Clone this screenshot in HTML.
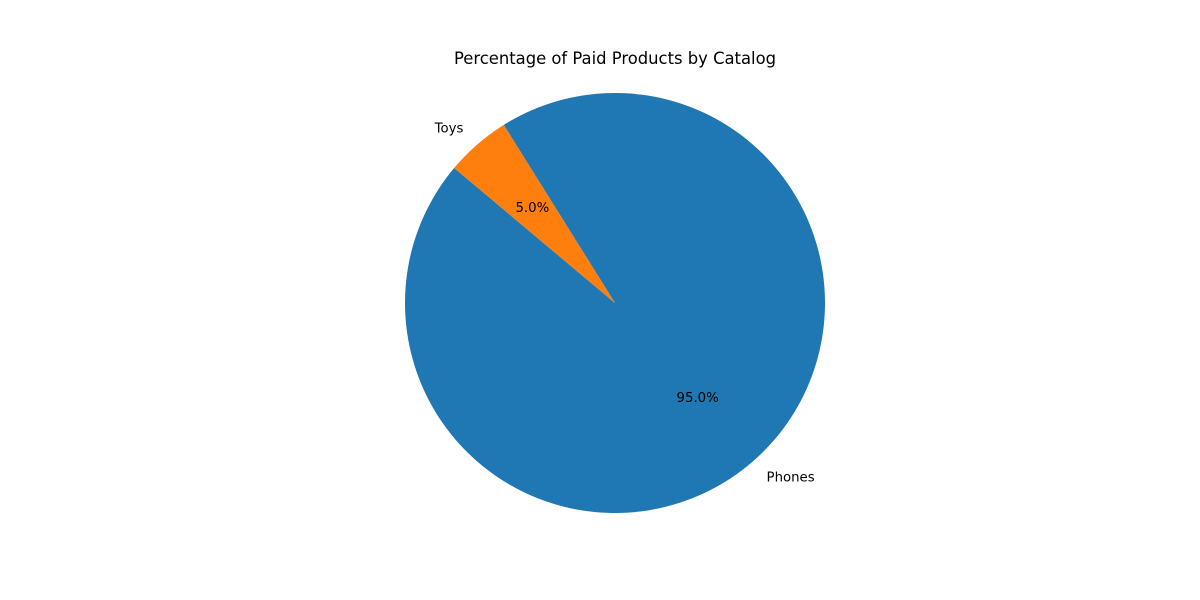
<!DOCTYPE html>
<html><head><meta charset="utf-8"><style>
html,body{margin:0;padding:0;background:#fff;}
svg{display:block;font-family:"DejaVu Sans","Liberation Sans",sans-serif;}
</style></head><body>
<svg id="chart" width="1200" height="600">
<rect width="1200" height="600" fill="#fff"/>
<text x="615" y="64" text-anchor="middle" font-size="16.4" fill="#000">Percentage of Paid Products by Catalog</text>
<g id="slices"></g>
</svg>
<script>
const categories = ["Phones", "Toys"];
const values = [95, 5];
const colors = ["#1f77b4", "#ff7f0e"];
const cx = 615, cy = 303, r = 210, startAngle = 140;
const svg = document.getElementById('slices');
const NS = "http://www.w3.org/2000/svg";
const total = values.reduce((a,b)=>a+b,0);
let a0 = startAngle;
function pt(angDeg, rad){const t=angDeg*Math.PI/180;return [cx+rad*Math.cos(t), cy-rad*Math.sin(t)];}
values.forEach((v,i)=>{
  const sweep = v/total*360;
  const a1 = a0 + sweep;
  const p0 = pt(a0,r), p1 = pt(a1,r);
  const large = sweep>180?1:0;
  const path = document.createElementNS(NS,'path');
  path.setAttribute('d',`M${cx},${cy} L${p0[0]},${p0[1]} A${r},${r} 0 ${large} 0 ${p1[0]},${p1[1]} Z`);
  path.setAttribute('fill',colors[i]);
  
  
  svg.appendChild(path);
  const mid = a0 + sweep/2;
  const lp = pt(mid, r*1.1);
  const lab = document.createElementNS(NS,'text');
  lab.setAttribute('x',lp[0]); lab.setAttribute('y',lp[1]+4);
  lab.setAttribute('font-size','13.3');
  lab.setAttribute('text-anchor', Math.cos(mid*Math.PI/180)>=0?'start':'end');
  lab.textContent = categories[i];
  
  
  svg.appendChild(lab);
  const pp = pt(mid, r*0.6);
  const pct = document.createElementNS(NS,'text');
  pct.setAttribute('x',pp[0]); pct.setAttribute('y',pp[1]+4);
  pct.setAttribute('font-size','13.3');
  pct.setAttribute('text-anchor','middle');
  pct.textContent = (v/total*100).toFixed(1)+'%';
  
  
  svg.appendChild(pct);
  a0 = a1;
});
</script>
</body></html>
